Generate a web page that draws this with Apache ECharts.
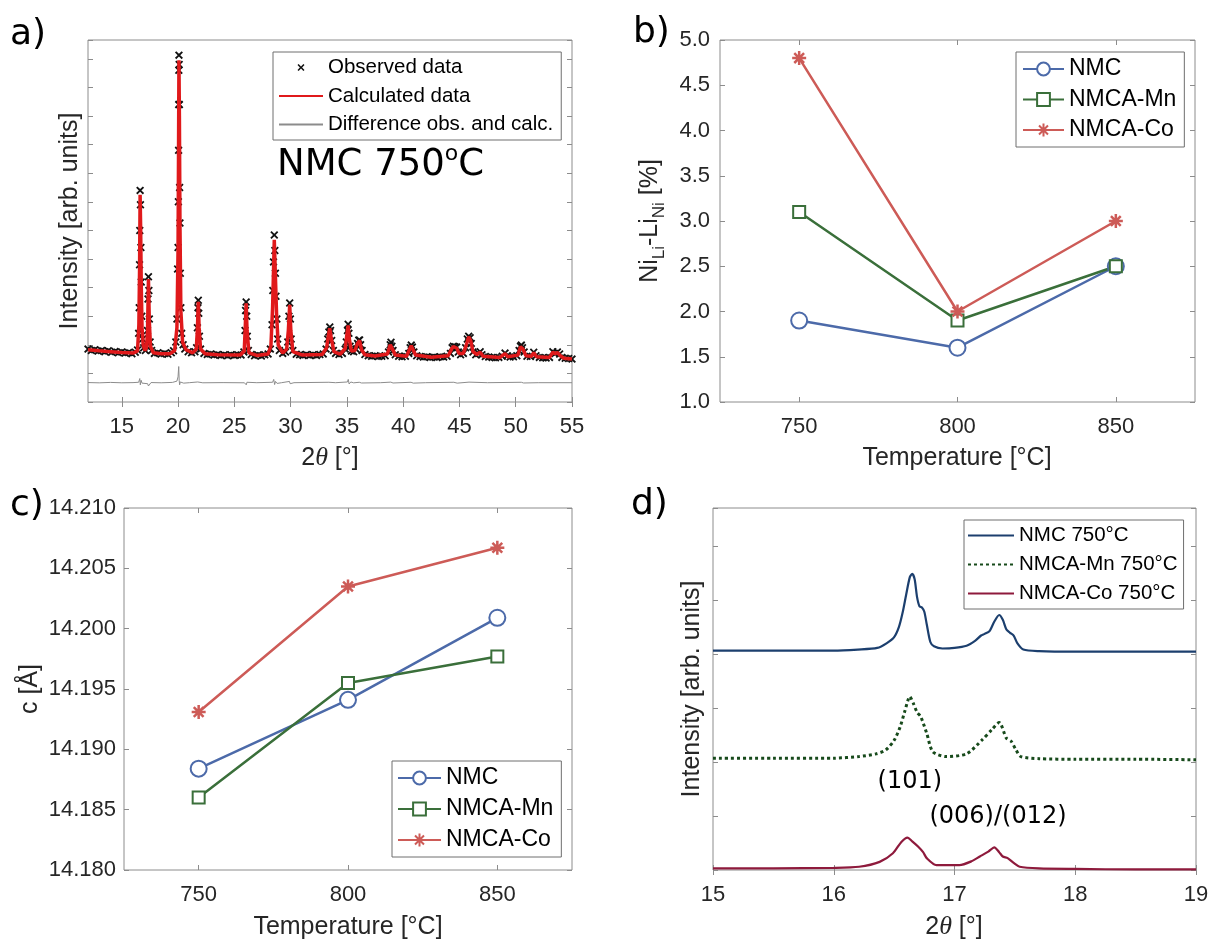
<!DOCTYPE html>
<html>
<head>
<meta charset="utf-8">
<script src="https://cdn.jsdelivr.net/npm/echarts@6/dist/echarts.min.js"></script>
<style>
html,body{margin:0;padding:0;background:#fff;}
#chart{width:1209px;height:939px;}
</style>
</head>
<body>
<div id="chart"></div>
<script>
// ---------- (a) Rietveld refinement of NMC 750 °C: [2θ, intensity] ----------
const obsPattern = [
[12.0,1850],[12.3,1800],[12.6,1830],[12.9,1780],[13.2,1800],[13.5,1760],[13.8,1790],[14.1,1740],[14.4,1770],[14.7,1720],
[15.0,1750],[15.3,1710],[15.6,1730],[15.9,1690],[16.2,1740],[16.4,1820],[16.5,2400],[16.55,3300],[16.58,4800],[16.6,6000],
[16.63,7400],[16.66,6900],[16.7,5400],[16.73,4200],[16.78,3000],[16.85,2200],[16.95,1900],[17.1,1800],[17.2,1950],[17.28,2500],
[17.33,3600],[17.37,4380],[17.41,3900],[17.45,2900],[17.52,2100],[17.65,1800],[17.9,1700],[18.2,1720],[18.5,1680],[18.8,1700],
[19.1,1670],[19.4,1720],[19.6,1790],[19.8,2100],[19.9,2900],[19.96,4650],[20.0,5400],[20.03,7000],[20.05,8800],[20.06,10400],
[20.07,11600],[20.08,12130],[20.1,11800],[20.12,10400],[20.14,7500],[20.17,6260],[20.2,4500],[20.25,3300],[20.32,2400],[20.45,2000],
[20.6,1850],[20.9,1760],[21.2,1720],[21.5,1760],[21.65,1900],[21.72,2600],[21.77,3300],[21.8,3560],[21.84,3100],[21.9,2300],
[22.0,1850],[22.3,1700],[22.6,1660],[22.9,1680],[23.2,1640],[23.5,1660],[23.8,1630],[24.1,1650],[24.4,1620],[24.7,1650],
[25.0,1630],[25.3,1650],[25.6,1640],[25.85,1750],[25.95,2500],[26.0,3200],[26.05,3500],[26.1,3000],[26.15,2300],[26.25,1800],
[26.5,1660],[26.8,1620],[27.1,1640],[27.4,1610],[27.7,1650],[28.0,1680],[28.2,1850],[28.35,2700],[28.42,3900],[28.48,4900],
[28.55,5840],[28.6,5300],[28.65,4500],[28.7,3700],[28.78,2900],[28.85,2200],[29.0,1800],[29.3,1700],[29.55,1750],[29.75,2100],
[29.85,3000],[29.92,3460],[29.98,2900],[30.05,2200],[30.2,1800],[30.5,1670],[30.8,1650],[31.1,1630],[31.4,1660],[31.7,1630],
[32.0,1650],[32.3,1630],[32.6,1660],[32.9,1680],[33.15,1850],[33.3,2200],[33.4,2450],[33.48,2620],[33.55,2500],[33.65,2150],
[33.8,1800],[34.0,1700],[34.3,1660],[34.6,1700],[34.85,1850],[34.95,2100],[35.05,2500],[35.11,2720],[35.18,2400],[35.28,1950],
[35.4,1780],[35.6,1760],[35.8,1850],[35.95,2050],[36.05,2160],[36.13,2170],[36.22,2000],[36.35,1800],[36.6,1660],[36.9,1620],
[37.2,1600],[37.5,1620],[37.8,1590],[38.1,1600],[38.4,1620],[38.7,1750],[38.85,2000],[38.92,2090],[39.0,1950],[39.1,1800],
[39.3,1650],[39.6,1600],[39.9,1580],[40.2,1600],[40.5,1700],[40.62,1900],[40.72,1990],[40.82,1920],[40.95,1750],[41.2,1620],
[41.5,1590],[41.8,1570],[42.1,1580],[42.4,1560],[42.7,1570],[43.0,1560],[43.3,1580],[43.6,1570],[43.9,1600],[44.2,1700],
[44.35,1900],[44.46,1950],[44.6,1930],[44.75,1920],[44.9,1750],[45.1,1650],[45.35,1700],[45.55,1900],[45.7,2200],[45.82,2300],
[45.95,2250],[46.05,2050],[46.2,1750],[46.45,1650],[46.7,1700],[46.84,1760],[47.0,1650],[47.3,1590],[47.6,1570],[47.9,1560],
[48.2,1550],[48.5,1560],[48.8,1600],[49.05,1710],[49.25,1620],[49.5,1570],[49.8,1580],[50.1,1620],[50.3,1800],[50.42,1950],
[50.5,1990],[50.6,1900],[50.75,1750],[51.0,1600],[51.3,1590],[51.6,1740],[51.8,1620],[52.1,1560],[52.4,1550],[52.7,1540],
[53.0,1560],[53.3,1760],[53.5,1700],[53.7,1750],[53.9,1680],[54.1,1560],[54.4,1530],[54.7,1520],[55.0,1500]
];
const calcPattern = [
[12.0,1825],[13.0,1790],[14.0,1760],[15.0,1730],[16.0,1710],[16.4,1790],[16.52,2700],[16.58,4600],[16.63,7250],[16.68,6000],
[16.73,4100],[16.8,2600],[16.9,2000],[17.05,1800],[17.2,1900],[17.29,2500],[17.37,4300],[17.45,2800],[17.55,1950],[17.8,1720],
[18.5,1690],[19.3,1690],[19.7,1800],[19.9,2600],[20.0,5300],[20.04,8500],[20.08,11950],[20.12,10000],[20.17,6200],[20.25,3200],
[20.4,2100],[20.7,1830],[21.3,1720],[21.62,1850],[21.72,2550],[21.8,3500],[21.87,2600],[22.0,1850],[22.4,1690],[23.5,1650],
[25.5,1640],[25.88,1780],[25.97,2600],[26.05,3450],[26.13,2500],[26.3,1720],[27.0,1630],[28.0,1680],[28.25,1950],[28.4,3300],
[28.55,5670],[28.65,4400],[28.75,3100],[28.9,2000],[29.3,1710],[29.65,1850],[29.8,2500],[29.92,3400],[30.02,2500],[30.2,1760],
[31.0,1645],[32.8,1660],[33.2,1900],[33.4,2420],[33.48,2580],[33.6,2250],[33.85,1760],[34.4,1670],[34.85,1870],[35.0,2350],
[35.11,2680],[35.22,2200],[35.4,1780],[35.7,1800],[35.95,2050],[36.13,2150],[36.3,1830],[36.6,1650],[37.5,1610],[38.6,1680],
[38.85,2000],[38.92,2060],[39.05,1850],[39.3,1640],[40.3,1600],[40.6,1870],[40.72,1970],[40.85,1850],[41.1,1640],[42.5,1565],
[44.0,1620],[44.3,1850],[44.46,1940],[44.6,1900],[44.78,1880],[44.95,1700],[45.35,1700],[45.6,1980],[45.82,2280],[46.0,2150],
[46.2,1760],[46.55,1660],[46.84,1740],[47.1,1600],[48.6,1560],[49.05,1690],[49.3,1580],[50.2,1640],[50.42,1930],[50.5,1970],
[50.65,1850],[50.9,1620],[51.4,1600],[51.6,1720],[51.85,1580],[53.0,1560],[53.3,1740],[53.5,1690],[53.7,1730],[53.95,1620],
[54.3,1530],[55.0,1500]
];
const diffPattern = [
[12,680],[13,670],[14,685],[15,672],[16,678],[16.5,690],[16.6,820],[16.65,600],[16.72,760],[16.8,660],[17.3,640],[17.37,560],
[17.45,620],[17.6,680],[18.5,672],[19.5,685],[19.9,730],[20.0,880],[20.06,1240],[20.1,760],[20.14,600],[20.2,700],[20.5,660],
[21.0,675],[21.75,700],[21.82,640],[22.2,672],[24,678],[25.9,672],[26.0,740],[26.06,600],[26.12,690],[27,675],[28.4,690],
[28.5,790],[28.58,610],[28.66,720],[28.8,650],[29.2,675],[29.9,720],[29.96,640],[30.3,675],[33.4,690],[33.55,660],[34,675],
[35.05,700],[35.12,790],[35.2,630],[35.35,700],[35.6,670],[36.1,690],[36.3,665],[38,675],[38.9,695],[39.1,665],[40.7,690],
[40.9,660],[42,675],[44.5,690],[44.8,660],[45.85,695],[46.0,660],[47.5,675],[50.5,690],[50.7,665],[52,675],[55,675]
];
const twoThetaTicks = [15, 20, 25, 30, 35, 40, 45, 50, 55];

// ---------- (b) Ni/Li antisite fraction [%] and (c) lattice parameter c [Å] ----------
const temperatures = [750, 800, 850];
const antisiteNMC = [1.9, 1.6, 2.5];
const antisiteMn  = [3.1, 1.9, 2.5];
const antisiteCo  = [4.8, 2.0, 3.0];
const latticeNMC = [14.1884, 14.1941, 14.2009];
const latticeMn  = [14.1860, 14.1955, 14.1977];
const latticeCo  = [14.1931, 14.2035, 14.2067];

// ---------- (d) (101) and (006)/(012) reflections, offset profiles ----------
const profileNMC = [
[15.0,4.06],[15.5,4.06],[16.0,4.06],[16.2,4.08],[16.36,4.11],[16.44,4.2],[16.5,4.31],[16.54,4.5],[16.57,4.76],[16.6,5.1],
[16.63,5.42],[16.65,5.48],[16.67,5.38],[16.69,5.05],[16.71,4.88],[16.73,4.86],[16.75,4.78],[16.77,4.55],[16.8,4.22],[16.83,4.14],
[16.9,4.1],[17.0,4.11],[17.1,4.15],[17.17,4.24],[17.22,4.34],[17.25,4.37],[17.29,4.42],[17.33,4.6],[17.37,4.72],[17.4,4.63],
[17.43,4.45],[17.46,4.39],[17.49,4.34],[17.52,4.2],[17.57,4.08],[17.7,4.05],[18.0,4.04],[18.5,4.04],[19.0,4.04]
];
const profileMn = [
[15.0,2.07],[15.5,2.07],[16.0,2.07],[16.21,2.1],[16.35,2.15],[16.43,2.22],[16.5,2.4],[16.55,2.65],[16.59,2.95],[16.63,3.21],
[16.66,3.08],[16.69,2.92],[16.72,2.84],[16.77,2.53],[16.82,2.19],[16.93,2.1],[17.1,2.15],[17.23,2.41],[17.31,2.6],[17.37,2.73],
[17.43,2.44],[17.47,2.38],[17.51,2.22],[17.55,2.1],[17.7,2.06],[18.0,2.05],[18.5,2.05],[19.0,2.04]
];
const profileCo = [
[15.0,0.03],[15.5,0.03],[16.0,0.04],[16.21,0.06],[16.38,0.15],[16.49,0.31],[16.56,0.52],[16.61,0.6],[16.65,0.53],[16.7,0.43],
[16.74,0.33],[16.77,0.22],[16.85,0.09],[17.04,0.09],[17.14,0.16],[17.21,0.25],[17.28,0.34],[17.33,0.42],[17.37,0.33],[17.4,0.25],
[17.44,0.22],[17.49,0.13],[17.54,0.06],[17.7,0.03],[18.0,0.02],[18.5,0.01],[19.0,0.01]
];
// reflection labels: [text, 2θ, height]
const peakLabels = [['(101)', 16.63, 1.63], ['(006)/(012)', 17.36, 0.98]];

// ---------- shared styling ----------
const AXIS_COLOR = '#8c8c8c';
const TEXT_COLOR = '#262626';
const SANS = '"Liberation Sans", Arial, sans-serif';
const DEJAVU = '"DejaVu Sans", sans-serif';
const SERIF = '"Liberation Serif", serif';

const gridBoxes = [
  {left: 88,  top: 40,  width: 484, height: 362},
  {left: 720, top: 40,  width: 475, height: 362},
  {left: 124, top: 508, width: 448, height: 362},
  {left: 713, top: 508, width: 483, height: 362}
];

function tickStyle(custom) {
  const t = {inside: true, length: 5, lineStyle: {color: AXIS_COLOR, width: 1}};
  if (custom) t.customValues = custom;
  return t;
}

// bottom + mirrored top x axis
function xAxes(g, o) {
  const common = {
    type: 'value', gridIndex: g, min: o.min, max: o.max,
    axisLine: {show: false}, splitLine: {show: false},
    axisTick: tickStyle(o.ticks)
  };
  if (o.interval) common.interval = o.interval;
  const label = {show: true, margin: 14, fontSize: 22, color: TEXT_COLOR, fontFamily: SANS};
  if (o.ticks) label.customValues = o.ticks;
  return [
    Object.assign({}, common, {position: 'bottom', axisLabel: label}),
    Object.assign({}, common, {position: 'top', axisLabel: {show: false}})
  ];
}
// left + mirrored right y axis
function yAxes(g, o) {
  const common = {
    type: 'value', gridIndex: g, min: o.min, max: o.max, interval: o.interval,
    axisLine: {show: false}, splitLine: {show: false},
    axisTick: tickStyle(null)
  };
  const label = o.fmt
    ? {show: true, margin: o.margin, fontSize: 22, color: TEXT_COLOR, fontFamily: SANS, formatter: o.fmt}
    : {show: false};
  return [
    Object.assign({}, common, {position: 'left', axisLabel: label}),
    Object.assign({}, common, {position: 'right', axisLabel: {show: false}})
  ];
}

const xAxis = [].concat(
  xAxes(0, {min: 12, max: 55, ticks: twoThetaTicks}),
  xAxes(1, {min: 725, max: 875, ticks: temperatures}),
  xAxes(2, {min: 725, max: 875, ticks: temperatures}),
  xAxes(3, {min: 15, max: 19, interval: 1})
);
const yAxis = [].concat(
  yAxes(0, {min: 0, max: 12660, interval: 1000}),
  yAxes(1, {min: 1, max: 5, interval: 0.5, margin: 10, fmt: v => v.toFixed(1)}),
  yAxes(2, {min: 14.18, max: 14.21, interval: 0.005, margin: 8, fmt: v => v.toFixed(3)}),
  yAxes(3, {min: 0, max: 6.7, interval: 1})
);

const CROSS = 'path://M0,1.6L1.6,0L5,3.4L8.4,0L10,1.6L6.6,5L10,8.4L8.4,10L5,6.6L1.6,10L0,8.4L3.4,5Z';
const STAR = 'path://M5,0L5,10M0,5L10,5M1.5,1.5L8.5,8.5M8.5,1.5L1.5,8.5';

const C_NMC = '#4c6aa9', C_MN = '#3a6f3a', C_CO = '#cd5b57';
const markerFor = {
  'NMC': ['emptyCircle', 16],
  'NMCA-Mn': ['emptyRect', 12],
  'NMCA-Co': [STAR, 14]
};

function tempSeries(g, name, values, color) {
  return {
    type: 'line', name: name, xAxisIndex: 2 * g, yAxisIndex: 2 * g,
    data: temperatures.map((t, i) => [t, values[i]]),
    symbol: markerFor[name][0], symbolSize: markerFor[name][1], showSymbol: true,
    color: color,
    lineStyle: {color: color, width: 2.5},
    itemStyle: {color: color, borderColor: color, borderWidth: 2.5},
    z: 3
  };
}

const series = [
  {type: 'scatter', name: 'Observed data', xAxisIndex: 0, yAxisIndex: 0, data: obsPattern,
   symbol: CROSS, symbolSize: 8, itemStyle: {color: '#111', opacity: 1}, z: 2},
  {type: 'line', name: 'Calculated data', xAxisIndex: 0, yAxisIndex: 0, data: calcPattern,
   symbol: 'none', color: '#e0191b', lineStyle: {color: '#e0191b', width: 3.5}, z: 3},
  {type: 'line', name: 'Difference obs. and calc.', xAxisIndex: 0, yAxisIndex: 0, data: diffPattern,
   symbol: 'none', color: '#8c8c8c', lineStyle: {color: '#8c8c8c', width: 1}, z: 3},

  tempSeries(1, 'NMC', antisiteNMC, C_NMC),
  tempSeries(1, 'NMCA-Mn', antisiteMn, C_MN),
  tempSeries(1, 'NMCA-Co', antisiteCo, C_CO),

  tempSeries(2, 'NMC', latticeNMC, C_NMC),
  tempSeries(2, 'NMCA-Mn', latticeMn, C_MN),
  tempSeries(2, 'NMCA-Co', latticeCo, C_CO),

  {type: 'line', name: 'NMC 750°C', xAxisIndex: 6, yAxisIndex: 6, data: profileNMC, symbol: 'none', smooth: 0.25,
   color: '#1c3f6e', lineStyle: {color: '#1c3f6e', width: 2.2}},
  {type: 'line', name: 'NMCA-Mn 750°C', xAxisIndex: 6, yAxisIndex: 6, data: profileMn, symbol: 'none', smooth: 0.25,
   color: '#174a1b', lineStyle: {color: '#174a1b', width: 3, type: [3, 3]}},
  {type: 'line', name: 'NMCA-Co 750°C', xAxisIndex: 6, yAxisIndex: 6, data: profileCo, symbol: 'none', smooth: 0.25,
   color: '#8e1a3c', lineStyle: {color: '#8e1a3c', width: 2.2}},
  // reflection labels placed at their 2θ position
  {type: 'scatter', name: 'reflections', xAxisIndex: 6, yAxisIndex: 6,
   data: peakLabels.map(p => ({value: [p[1], p[2]], name: p[0]})),
   symbol: 'circle', symbolSize: 0, itemStyle: {color: '#000', opacity: 1}, silent: true, z: 5,
   label: {show: true, position: 'inside', formatter: p => p.name, fontSize: 24, fontFamily: DEJAVU,
           color: '#000', opacity: 1, textBorderWidth: 0}}
];

function legendBox(items, left, top, o) {
  return {
    data: items, orient: 'vertical', left: left, top: top,
    padding: o.padding, itemGap: o.gap, itemWidth: o.iw, itemHeight: o.ih,
    borderColor: '#6e6e6e', borderWidth: 1, backgroundColor: '#fff', borderRadius: 0,
    selectedMode: false,
    textStyle: {fontSize: o.fs, lineHeight: o.lh, color: '#000', fontFamily: SANS}
  };
}
// plain-line entries: hide the marker the legend would otherwise draw
const lineOnly = name => ({name: name, itemStyle: {opacity: 0}});

const legend = [
  legendBox(['Observed data', lineOnly('Calculated data'), lineOnly('Difference obs. and calc.')], 273, 52,
            {padding: [5, 8, 5, 5], gap: 7.5, iw: 44, ih: 7, fs: 20.5, lh: 20}),
  legendBox(['NMC', 'NMCA-Mn', 'NMCA-Co'], 1016, 52,
            {padding: [5, 8, 5, 6], gap: 6.5, iw: 41, ih: 16, fs: 23, lh: 24}),
  legendBox(['NMC', 'NMCA-Mn', 'NMCA-Co'], 392, 761,
            {padding: [5, 8, 5, 5], gap: 7, iw: 43, ih: 16, fs: 23, lh: 24}),
  legendBox([lineOnly('NMC 750°C'), lineOnly('NMCA-Mn 750°C'), lineOnly('NMCA-Co 750°C')], 964, 520,
            {padding: [5, 6, 5, 3], gap: 8, iw: 46, ih: 8, fs: 20.5, lh: 20})
];

// titles, panel letters and in-plot text
function label(x, y, text, opts) {
  return Object.assign({
    type: 'text', x: x, y: y, silent: true, z: 50,
    style: Object.assign({
      text: text, fill: TEXT_COLOR, fontSize: 25, fontFamily: SANS,
      align: 'center', verticalAlign: 'middle', textAlign: 'center', textVerticalAlign: 'middle'
    }, opts && opts.style)
  }, opts && opts.el);
}
const thetaRich = {
  n: {fontSize: 25, fontFamily: SANS, fill: TEXT_COLOR},
  i: {fontSize: 26, fontFamily: SERIF, fontStyle: 'italic', fill: TEXT_COLOR}
};
const ROT = Math.PI / 2;
const letterStyle = {fill: '#000', fontSize: 36, fontFamily: DEJAVU, align: 'left', textAlign: 'left'};

const graphic = [
  label(10, 35, 'a)', {style: letterStyle}),
  label(633, 33, 'b)', {style: letterStyle}),
  label(10, 506, 'c)', {style: letterStyle}),
  label(631, 505, 'd)', {style: letterStyle}),

  label(277, 165, '{a|NMC 750}{o|o}{a|C}', {style: {
    fill: '#000', align: 'left', textAlign: 'left',
    rich: {
      a: {fontSize: 37, fontFamily: DEJAVU, fill: '#000', lineHeight: 44},
      o: {fontSize: 22, fontFamily: DEJAVU, fill: '#000', lineHeight: 30, verticalAlign: 'top'}
    }}}),

  label(330, 458, '{n|2}{i|θ}{n| [°]}', {style: {rich: thetaRich}}),
  label(954, 927, '{n|2}{i|θ}{n| [°]}', {style: {rich: thetaRich}}),
  label(957, 458, 'Temperature [°C]'),
  label(348, 927, 'Temperature [°C]'),

  label(70, 221, 'Intensity [arb. units]', {el: {rotation: ROT}}),
  label(692, 689, 'Intensity [arb. units]', {el: {rotation: ROT}}),
  label(30, 689, 'c [Å]', {el: {rotation: ROT}}),
  label(650, 221, '{a|Ni}{s|Li}{a|-Li}{s|Ni}{a| [%]}', {el: {rotation: ROT}, style: {rich: {
    a: {fontSize: 25, fontFamily: SANS, fill: TEXT_COLOR, lineHeight: 36},
    s: {fontSize: 17, fontFamily: SANS, fill: TEXT_COLOR, lineHeight: 16, verticalAlign: 'bottom'}
  }}})
];

const chart = echarts.init(document.getElementById('chart'), null, {renderer: 'canvas'});
chart.setOption({
  animation: false,
  backgroundColor: '#fff',
  grid: gridBoxes.map(b => Object.assign({
    show: true, borderColor: AXIS_COLOR, borderWidth: 1, backgroundColor: '#fff',
    containLabel: false, outerBoundsMode: 'none'
  }, b)),
  xAxis: xAxis,
  yAxis: yAxis,
  legend: legend,
  series: series,
  graphic: graphic
});
</script>
</body>
</html>
